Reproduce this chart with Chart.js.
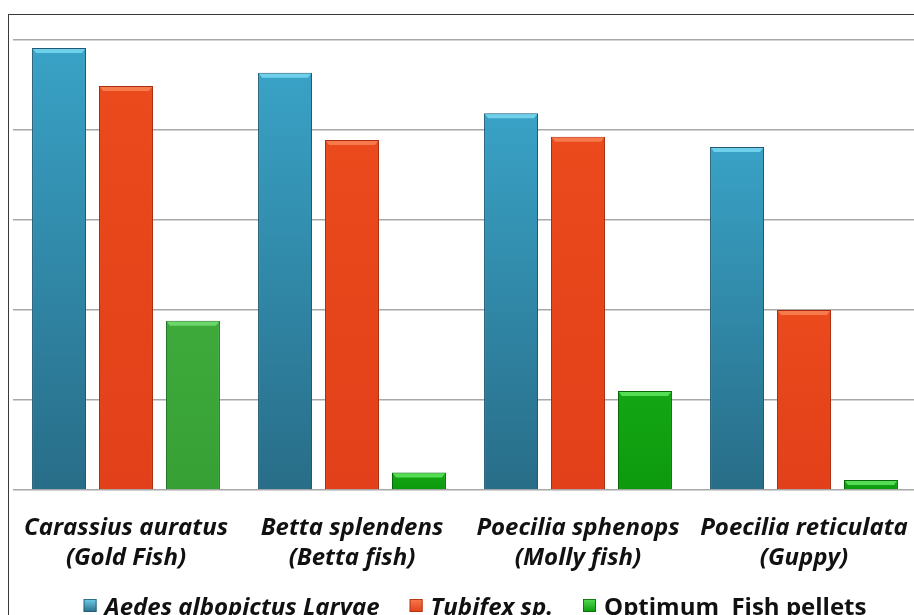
<!DOCTYPE html>
<html>
<head>
<meta charset="utf-8">
<script src="https://cdn.jsdelivr.net/npm/chart.js@4"></script>
<style>
  html, body { margin: 0; padding: 0; background: #fff; overflow: hidden; width: 914px; height: 615px; }
  #frame { position: absolute; left: 8px; top: 14px; width: 1000px; height: 700px;
           border-left: 1.5px solid #3a3a3a; border-top: 1.5px solid #3a3a3a; }
  #wrap { position: absolute; left: 0; top: 0; width: 920px; height: 640px; }
</style>
</head>
<body>
<div id="frame"></div>
<div id="wrap"><canvas id="c"></canvas></div>
<script>
// Fish species (two-line labels)
const categories = [
  ["Carassius auratus", "(Gold Fish)"],
  ["Betta splendens", "(Betta fish)"],
  ["Poecilia sphenops", "(Molly fish)"],
  ["Poecilia reticulata", "(Guppy)"]
];
const seriesNames = ["Aedes albopictus Larvae", "Tubifex sp.", "Optimum  Fish pellets"];
const larvae  = [98.2, 92.7, 83.7, 76.2];
const tubifex = [89.8, 77.8, 78.5, 40.0];
const pellets = [37.6, 3.9, 22.0, 2.2];
const yTicks  = [0, 20, 40, 60, 80, 100];

const FONT = "'Open Sans'";
const TEXT_SIZE = 24;

// Colour schemes: [top, bottom, border, bevel]
const blueStyle  = ["#39a2c6", "#286d88", "#1f5a72", "#6fd0ec"];
const redStyle   = ["#ea4a1c", "#e2401a", "#a92e0f", "#f77a4c"];
const greenStyles = [
  ["#3faa3c", "#36a034", "#24742a", "#6cd66a"],
  ["#14a614", "#0c9a0c", "#066806", "#55dd55"],
  ["#14a614", "#0c9a0c", "#066806", "#55dd55"],
  ["#14a614", "#0c9a0c", "#066806", "#55dd55"]
];
const styleFor = (ds, i) => ds === 0 ? blueStyle : ds === 1 ? redStyle : greenStyles[i];

function barFill(ctx) {
  const chart = ctx.chart, area = chart.chartArea;
  const st = styleFor(ctx.datasetIndex, ctx.dataIndex);
  if (!area || !chart.scales.y || ctx.raw == null) return st[1];
  const y = chart.scales.y.getPixelForValue(ctx.raw);
  const g = chart.ctx.createLinearGradient(0, y, 0, area.bottom);
  g.addColorStop(0, st[0]);
  g.addColorStop(1, st[1]);
  return g;
}
const barBorder = ctx => styleFor(ctx.datasetIndex, ctx.dataIndex)[2];

// Lighter bevel strip along the top edge of each bar
const bevelPlugin = {
  id: 'bevel',
  afterDatasetsDraw(chart) {
    const c = chart.ctx;
    chart.data.datasets.forEach((ds, di) => {
      chart.getDatasetMeta(di).data.forEach((bar, j) => {
        const { x, y, width } = bar.getProps(['x', 'y', 'width'], true);
        const l = x - width / 2, r = x + width / 2;
        c.save();
        c.fillStyle = styleFor(di, j)[3];
        c.beginPath();
        c.moveTo(l + 1, y + 1);
        c.lineTo(r - 1, y + 1);
        c.lineTo(r - 4, y + 5);
        c.lineTo(l + 4, y + 5);
        c.closePath();
        c.fill();
        c.restore();
      });
    });
  }
};

// Legend with per-series font styles
const legendFonts = [
  `italic bold ${TEXT_SIZE}px ${FONT}`,
  `italic bold ${TEXT_SIZE}px ${FONT}`,
  `bold ${TEXT_SIZE}px ${FONT}`
];
const legendPlugin = {
  id: 'seriesLegend',
  afterDraw(chart) {
    const c = chart.ctx;
    const box = 13, gapText = 8, gapItem = 30, baseline = 615, center = 475;
    c.save();
    const widths = seriesNames.map((n, i) => { c.font = legendFonts[i]; return c.measureText(n).width; });
    const total = widths.reduce((a, w) => a + box + gapText + w, 0) + gapItem * (seriesNames.length - 1);
    let x = center - total / 2;
    seriesNames.forEach((name, i) => {
      const st = styleFor(i, 1);
      const g = c.createLinearGradient(0, baseline - 16, 0, baseline - 3);
      g.addColorStop(0, st[3]);
      g.addColorStop(1, st[1]);
      c.fillStyle = g;
      c.fillRect(x, baseline - 16, box, box);
      c.strokeStyle = st[2];
      c.lineWidth = 0.8;
      c.strokeRect(x + 0.5, baseline - 15.5, box - 1, box - 1);
      c.font = legendFonts[i];
      c.fillStyle = '#111';
      c.textBaseline = 'alphabetic';
      c.fillText(name, x + box + gapText, baseline);
      x += box + gapText + widths[i] + gapItem;
    });
    c.restore();
  }
};

const barStyle = {
  categoryPercentage: 0.889,
  barPercentage: 0.806,
  backgroundColor: barFill,
  borderColor: barBorder,
  borderWidth: 1
};

new Chart(document.getElementById('c'), {
  type: 'bar',
  data: {
    labels: categories,
    datasets: [
      { label: seriesNames[0], data: larvae, ...barStyle },
      { label: seriesNames[1], data: tubifex, ...barStyle },
      { label: seriesNames[2], data: pellets, ...barStyle }
    ]
  },
  options: {
    responsive: true,
    maintainAspectRatio: false,
    animation: false,
    layout: { padding: { left: 13, right: 3, top: 40, bottom: 60 } },
    plugins: { colors: { enabled: false }, legend: { display: false }, tooltip: { enabled: false } },
    scales: {
      x: {
        grid: { display: false, drawTicks: false, tickLength: 0 },
        border: { display: false },
        ticks: {
          padding: 23,
          color: '#111',
          font: { family: FONT, size: TEXT_SIZE, style: 'italic', weight: 'bold', lineHeight: 1.25 },
          maxRotation: 0, autoSkip: false
        },
        afterFit(scale) {
          // labels may run past the plot edges; keep the plot width fixed
          scale.height = 90;
          scale.paddingLeft = 0;
          scale.paddingRight = 0;
        }
      },
      y: {
        min: yTicks[0],
        max: yTicks[yTicks.length - 1],
        afterBuildTicks(scale) { scale.ticks = yTicks.map(v => ({ value: v })); },
        ticks: { display: false },
        grid: { color: '#a8a8a8', lineWidth: 1.5, drawTicks: false, tickLength: 0 },
        border: { display: false }
      }
    }
  },
  plugins: [bevelPlugin, legendPlugin]
});
</script>
</body>
</html>
